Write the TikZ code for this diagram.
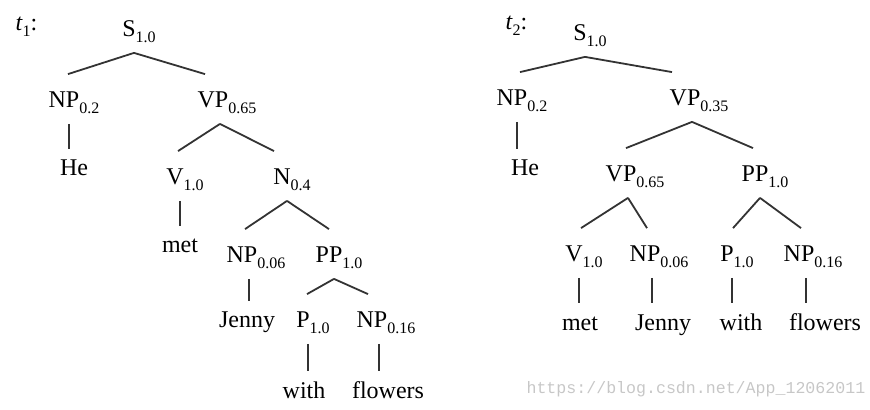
\documentclass[tikz,border=0pt]{standalone}
\usepackage{fontspec}
\setmainfont{Liberation Serif}
\setmonofont{Liberation Mono}
\newcommand\subsz{\fontsize{8}{9}\selectfont}
\newcommand\nt[2]{#1\makebox[.5\width][l]{\raisebox{-2.7pt}{\subsz #2}}}
\begin{document}
\begin{tikzpicture}[x=.5pt,y=-.5pt,font=\fontsize{12}{14}\selectfont,line width=.9pt,draw=black!80,
 cat/.style={anchor=base,inner xsep=0pt,inner ysep=7.5pt,text height=9pt,text depth=0pt},
 word/.style={anchor=base,inner xsep=0pt,inner ysep=5pt,text height=8pt,text depth=0pt}]
\useasboundingbox (0,0) rectangle (870,410);
\node[anchor=base west] (ta) at (8,31) {\textit{t}\raisebox{-2.7pt}{\subsz 1}:};
\node[anchor=base west] (tb) at (498,30) {\textit{t}\raisebox{-2.7pt}{\subsz 2}:};
\foreach \n/\x/\y/\s/\t in {sa/134/37/S/1.0,npa/69/108/NP/0.2,vpa/220/108/VP/0.65,va/180/185/V/1.0,na/287/185/N/0.4,
 np6a/249/263/NP/0.06,ppa/334/263/PP/1.0,pa/308/328/P/1.0,np16a/379/328/NP/0.16,
 sb/585/41/S/1.0,npb/517/106/NP/0.2,vpb/692/106/VP/0.35,vp65b/628/182/VP/0.65,ppb/760/182/PP/1.0,
 vb/579/262/V/1.0,np6b/652/262/NP/0.06,pb/732/262/P/1.0,np16b/806/262/NP/0.16}{\node[cat] (\n) at (\x,\y) {\nt{\s}{\t}};}
\foreach \n/\x/\y/\w in {hea/74/176/He,meta/180/253/met,jennya/247/328/Jenny,witha/304/398/with,flowersa/388/398/flowers,
 heb/525/176/He,metb/580/330/met,jennyb/663/330/Jenny,withb/741/330/with,flowersb/825/330/flowers}{\node[word] (\n) at (\x,\y) {\w};}
\foreach \a/\b/\d in {sa/npa/-1,sa/vpa/-15,vpa/va/-2,vpa/na/-13,na/np6a/-4,na/ppa/-5,ppa/pa/-1,ppa/np16a/-11,
 sb/npb/3,sb/vpb/-20,vpb/vp65b/-2,vpb/ppb/-7,vp65b/vb/2,vp65b/np6b/-5,ppb/pb/1,ppb/np16b/-5}{\draw (\a.south) -- ([shift={(\d,0)}]\b.north);}
\foreach \a/\b in {npa/hea,va/meta,np6a/jennya,pa/witha,np16a/flowersa,npb/heb,vb/metb,np6b/jennyb,pb/withb,np16b/flowersb}{\draw (\a.south) -- (\a.south |- \b.north);}
\node[anchor=base west,font=\fontsize{8.3}{9}\selectfont\ttfamily,text=black!22] (url) at (519,393) {https://blog.csdn.net/App\_12062011};
\end{tikzpicture}
\end{document}
